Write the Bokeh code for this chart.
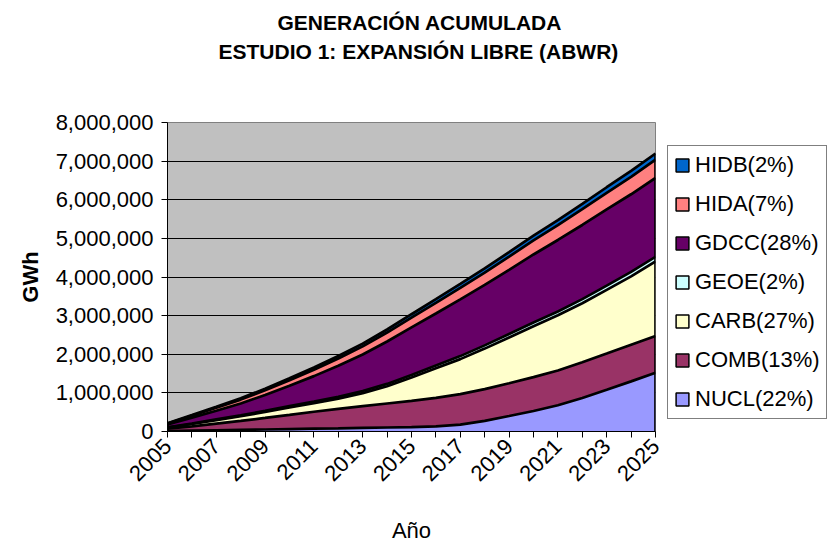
from bokeh.plotting import figure
from bokeh.models import (ColumnDataSource, FixedTicker, NumeralTickFormatter, Legend,
                          LegendItem, Title, Range1d)
from bokeh.embed import file_html
from bokeh.resources import INLINE
import math

years = list(range(2005, 2026))

NUCL = [10400, 20700, 31300, 41500, 51900, 62600, 72700, 83100, 93800, 104100, 114300,
        132000, 176000, 276000, 400000, 532000, 681000, 868000, 1079000, 1298000, 1520000]
COMB = [62000, 112000, 171000, 232000, 300000, 368000, 438000, 501000, 562000, 620000, 678000,
        738000, 790000, 822000, 848000, 876000, 899000, 925000, 938000, 948000, 952000]
CARB = [30000, 61000, 92000, 121000, 152000, 190000, 221000, 268000, 338000, 448000, 606000,
        768000, 908000, 1048000, 1188000, 1318000, 1428000, 1528000, 1648000, 1770000, 1930000]
GEOE = [6100, 12300, 18200, 24300, 30100, 36200, 42000, 48100, 54000, 60100, 66000,
        72000, 77800, 83600, 89300, 95100, 100600, 105900, 111200, 116300, 121400]
GDCC = [72000, 152000, 226000, 308000, 412000, 528000, 660000, 802000, 946000, 1098000, 1232000,
        1346000, 1470000, 1566000, 1660000, 1762000, 1850000, 1920000, 1972000, 2010000, 2042000]
HIDA = [26000, 51000, 75000, 99000, 122000, 145000, 167000, 189000, 210000, 232000, 254000,
        276000, 298000, 320000, 342000, 364000, 386000, 408000, 430000, 451000, 472000]
HIDB = [8200, 16300, 24200, 32100, 39900, 47600, 55300, 63000, 70600, 78200, 85800,
        93400, 100900, 108400, 115900, 123300, 130700, 138100, 145500, 152800, 160100]

series_names = ["NUCL", "COMB", "CARB", "GEOE", "GDCC", "HIDA", "HIDB"]
series_values = [NUCL, COMB, CARB, GEOE, GDCC, HIDA, HIDB]
legend_labels = ["NUCL(22%)", "COMB(13%)", "CARB(27%)", "GEOE(2%)", "GDCC(28%)", "HIDA(7%)", "HIDB(2%)"]
colors = ["#9999FF", "#993366", "#FFFFCC", "#CCFFFF", "#660066", "#FF8080", "#0066CC"]

y_ticks = [0, 1000000, 2000000, 3000000, 4000000, 5000000, 6000000, 7000000, 8000000]

FONT = "Liberation Sans"

data = {"year": years}
for n, v in zip(series_names, series_values):
    data[n] = v
source = ColumnDataSource(data)

p = figure(frame_width=488, frame_height=309, output_backend="svg", toolbar_location=None,
           x_range=Range1d(2005, 2025), y_range=Range1d(0, 8000000),
           min_border_left=167, min_border_right=180, min_border_top=122, min_border_bottom=113)
p.title = None
p.background_fill_color = "#C0C0C0"
p.border_fill_color = "white"
p.outline_line_color = "#808080"
p.outline_line_width = 1

p.varea_stack(stackers=series_names, x="year", color=colors, source=source)

# boundary lines
cum = [0] * len(years)
for v in series_values:
    cum = [a + b for a, b in zip(cum, v)]
    p.line(years, cum, line_color="black", line_width=2.7)
p.segment(x0=[years[-1], years[0]], y0=[0, 0], x1=[years[-1], years[0]], y1=[cum[-1], cum[0]],
          line_color="black", line_width=2.7)

# legend proxies (degenerate quads, invisible in the plot)
items = []
for lab, c in reversed(list(zip(legend_labels, colors))):
    r = p.quad(left=[years[0]], right=[years[0]], top=[0], bottom=[0],
               fill_color=c, line_color="black", line_width=1.5)
    items.append(LegendItem(label=lab, renderers=[r]))
legend = Legend(items=items, location="bottom_left", margin=12, border_line_color="black",
                border_line_width=1, background_fill_color="white", background_fill_alpha=1.0,
                label_text_font=FONT, label_text_font_size="22px", label_text_color="black",
                glyph_width=16, glyph_height=16,
                label_standoff=5, spacing=13, padding=6, label_height=22)
p.add_layout(legend, "right")

# axes
p.xaxis.ticker = FixedTicker(ticks=years)
p.xaxis.major_label_overrides = {y: ("" if (y - 2005) % 2 else str(y)) for y in years}
p.xaxis.major_label_orientation = math.pi / 4
p.xaxis.axis_label = "Año"
p.yaxis.ticker = FixedTicker(ticks=y_ticks)
p.yaxis.formatter = NumeralTickFormatter(format="0,0")
p.yaxis.axis_label = "GWh"
for ax in (p.xaxis, p.yaxis):
    ax.major_label_text_font = FONT
    ax.major_label_text_font_size = "22px"
    ax.major_label_text_color = "black"
    ax.axis_label_text_font = FONT
    ax.axis_label_text_font_size = "22px"
    ax.axis_label_text_color = "black"
    ax.axis_line_color = "black"
    ax.major_tick_line_color = "black"
    ax.major_tick_out = 6
    ax.major_tick_in = 0
    ax.minor_tick_line_color = None
p.xaxis.axis_label_text_font_style = "normal"
p.yaxis.axis_label_text_font_style = "bold"
p.xaxis.major_label_standoff = 5
p.yaxis.major_label_standoff = 8
p.yaxis.axis_label_standoff = 10
p.xaxis.axis_label_standoff = 27

p.xgrid.visible = False
p.ygrid.grid_line_color = "black"
p.ygrid.grid_line_width = 1

# titles (stacked upward from the plot frame): spacer, line 2, line 1
p.add_layout(Title(text=" ", text_font_size="20px", standoff=34), "above")
p.add_layout(Title(text="ESTUDIO 1: EXPANSIÓN LIBRE (ABWR)", align="left", offset=51,
                   text_font=FONT, text_color="black",
                   text_font_size="21px", text_font_style="bold", standoff=4), "above")
p.add_layout(Title(text="GENERACIÓN ACUMULADA", align="left", offset=110,
                   text_font=FONT, text_color="black",
                   text_font_size="21px", text_font_style="bold", standoff=4), "above")

open("out.html", "w").write(file_html(p, INLINE))
